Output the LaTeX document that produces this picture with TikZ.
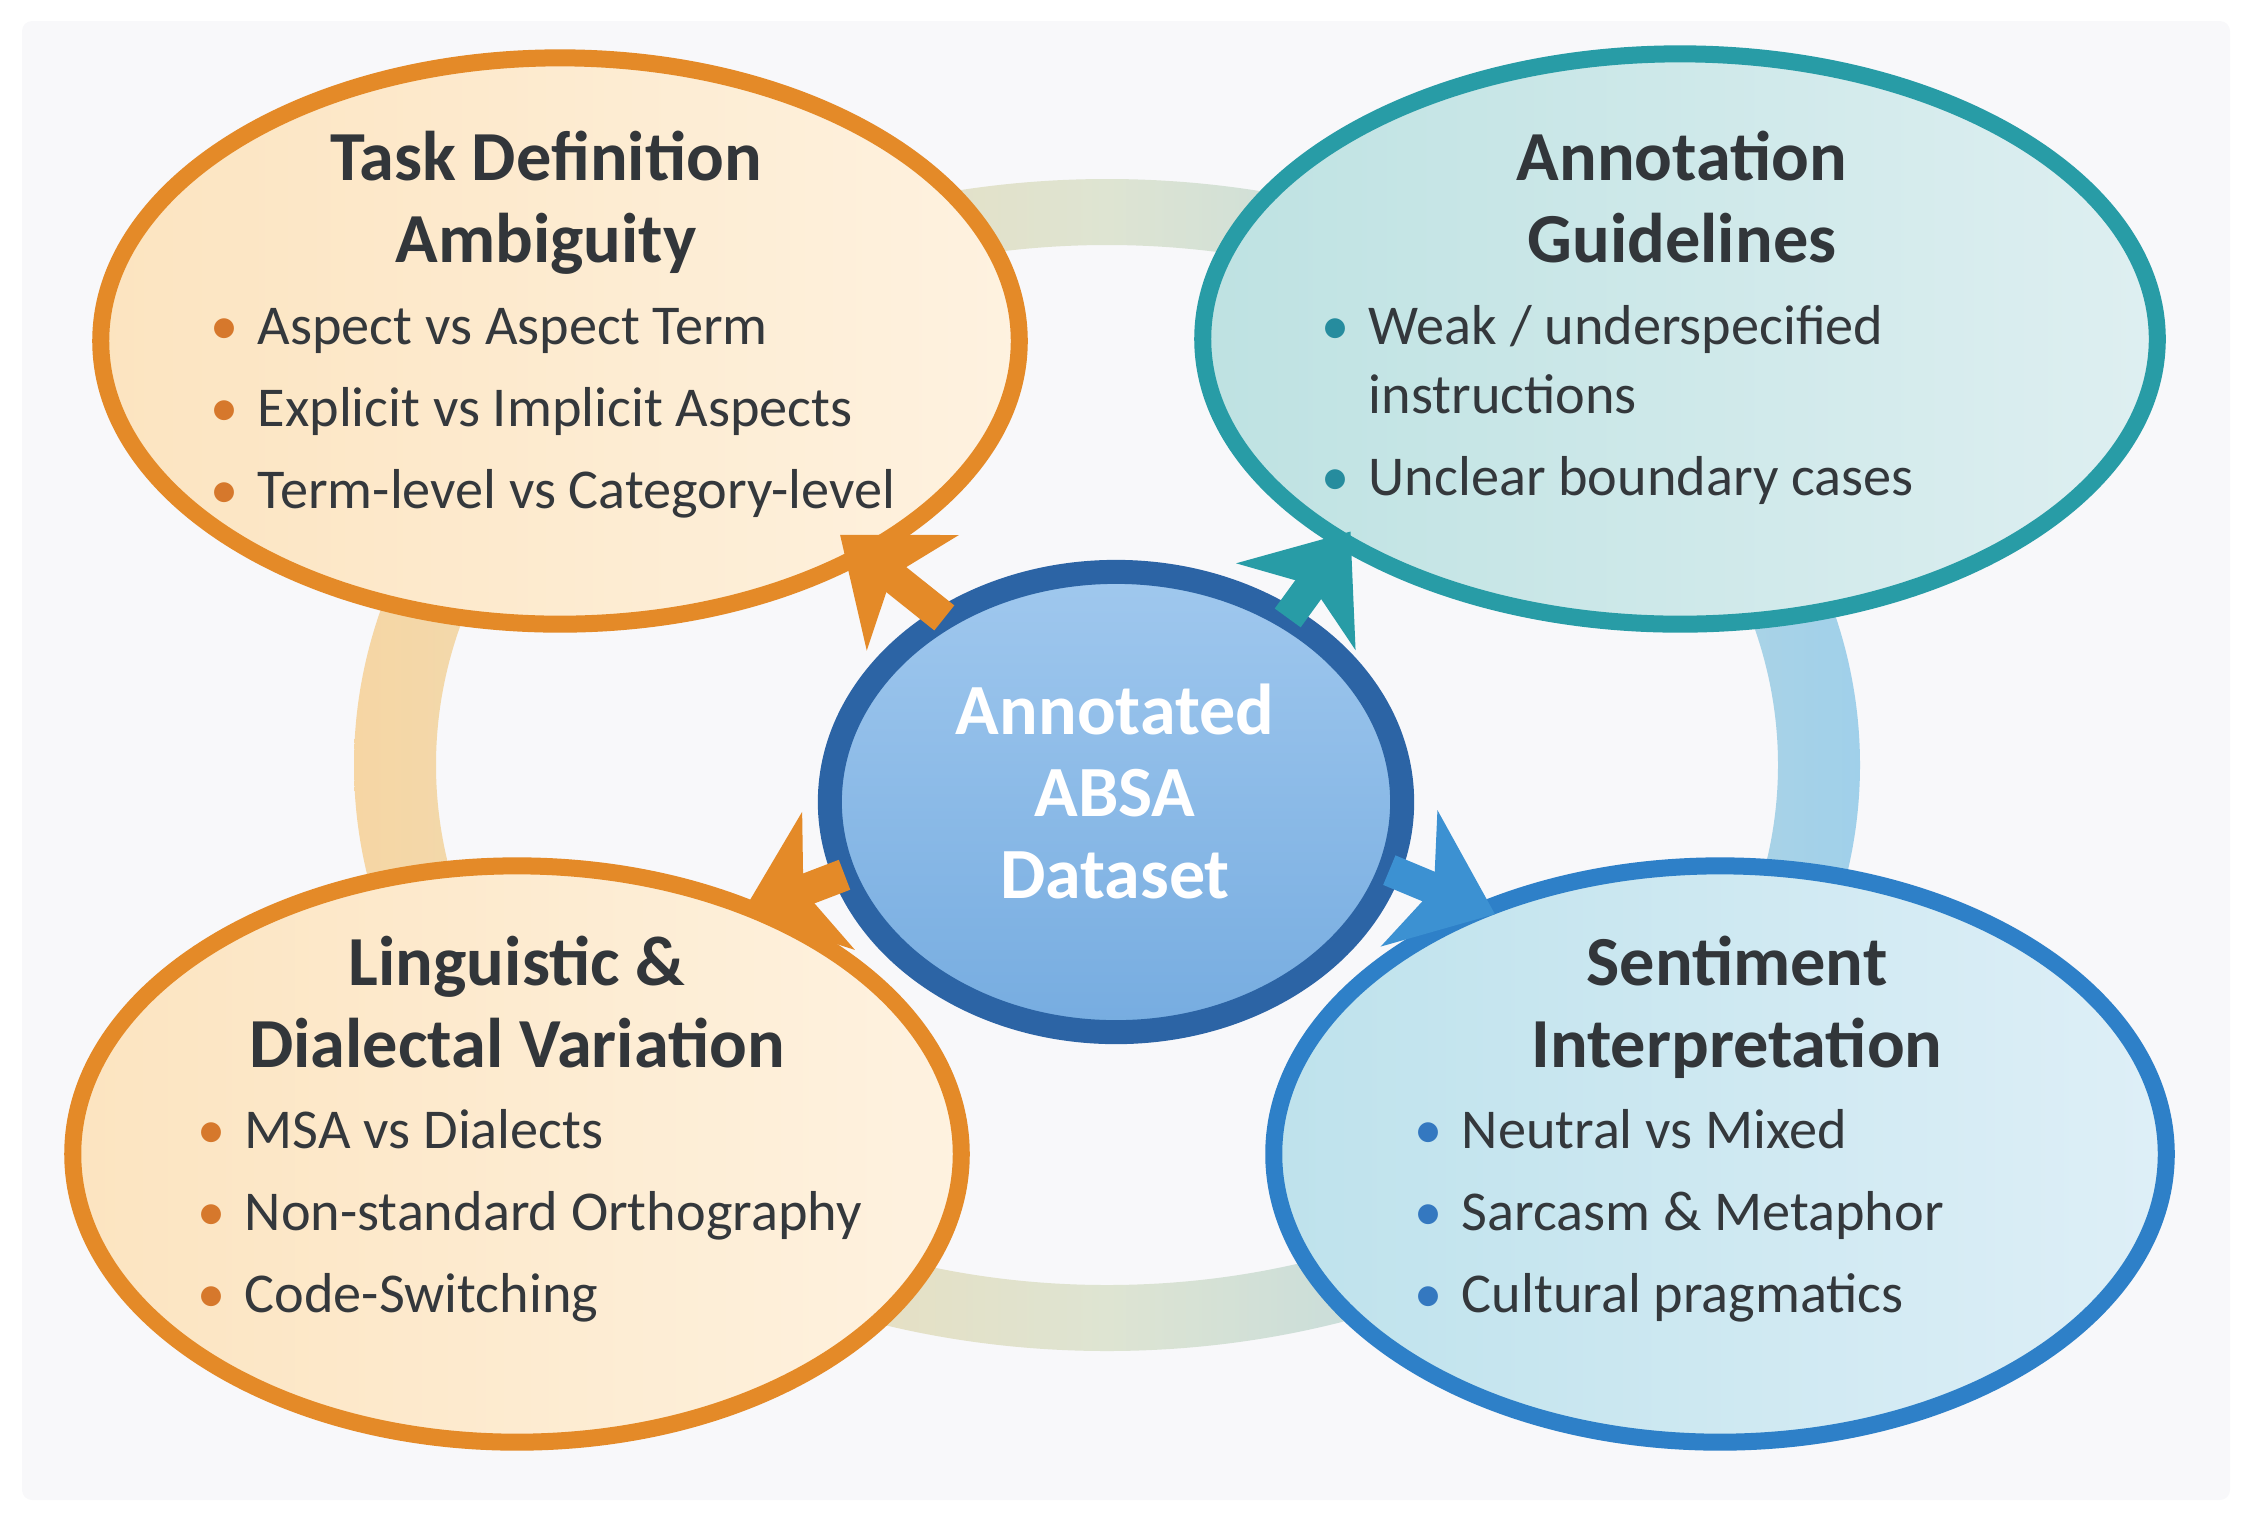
\documentclass[tikz,border=0pt]{standalone}
\usepackage{fontspec}
\setmainfont{Carlito}
\usepackage{xcolor}
\usetikzlibrary{shapes.geometric, arrows.meta, positioning}

\definecolor{panelgray}{RGB}{248, 248, 250}
\definecolor{titlegray}{RGB}{50, 54, 58}
\definecolor{textgray}{RGB}{52, 56, 60}
\definecolor{ringwarm}{RGB}{246, 214, 164}
\definecolor{ringmid}{RGB}{222, 228, 210}
\definecolor{ringcool}{RGB}{160, 208, 234}
\definecolor{warmline}{RGB}{228, 138, 40}
\definecolor{warmdot}{RGB}{214, 120, 44}
\definecolor{warmfillA}{RGB}{252, 228, 192}
\definecolor{warmfillB}{RGB}{254, 242, 224}
\definecolor{tealline}{RGB}{40, 156, 166}
\definecolor{tealdot}{RGB}{38, 140, 158}
\definecolor{tealfillA}{RGB}{190, 226, 226}
\definecolor{tealfillB}{RGB}{222, 239, 241}
\definecolor{blueline}{RGB}{46, 128, 200}
\definecolor{bluedot}{RGB}{52, 120, 192}
\definecolor{bluefillA}{RGB}{190, 226, 236}
\definecolor{bluefillB}{RGB}{222, 239, 247}
\definecolor{bluearrow}{RGB}{60, 145, 210}
\definecolor{hubline}{RGB}{44, 100, 165}
\definecolor{hubtop}{RGB}{160, 200, 238}
\definecolor{hubbottom}{RGB}{118, 172, 224}

\newcommand{\dotitem}[2]{\makebox[0.47cm][l]{\textcolor{#1}{\textbullet}}#2}

\begin{document}
\begin{tikzpicture}[x=0.01cm, y=-0.01cm,
    topic/.style={ellipse, line width=0.17cm, inner sep=0pt, outer sep=0pt},
    hubstyle/.style={ellipse, draw=hubline, line width=0.24cm, inner sep=0pt, outer sep=0pt,
        top color=hubtop, bottom color=hubbottom},
    topictitle/.style={anchor=north, align=center, inner sep=0pt, text=titlegray,
        font=\fontsize{20}{23.5}\selectfont\bfseries},
    topiclist/.style={anchor=north west, align=left, inner sep=0pt, text=textgray,
        font=\fontsize{16}{23.3}\selectfont},
    flow/.style={line width=0.32cm, shorten >=-0.12cm,
        -{Stealth[length=0.92cm, width=1.45cm, inset=0.26cm]}}]

    \useasboundingbox (0,0) rectangle (2251,1520);
    \fill[panelgray, rounded corners=0.1cm] (22,21) rectangle (2230,1500);

    % Cycle ring behind the topics
    \shade[left color=ringwarm, right color=ringcool, middle color=ringmid, even odd rule]
        (1107,765) ellipse (753 and 586) (1107,765) ellipse (671 and 520);

    % Topic ellipses
    \node[topic, draw=warmline, left color=warmfillA, right color=warmfillB,
        minimum width=9.18cm, minimum height=5.66cm] (taskdef) at (560,341) {};
    \node[topic, draw=tealline, left color=tealfillA, right color=tealfillB,
        minimum width=9.54cm, minimum height=5.70cm] (guide) at (1680,339) {};
    \node[topic, draw=warmline, left color=warmfillA, right color=warmfillB,
        minimum width=8.88cm, minimum height=5.76cm] (lingvar) at (517,1154) {};
    \node[topic, draw=blueline, left color=bluefillA, right color=bluefillB,
        minimum width=8.92cm, minimum height=5.76cm] (sentint) at (1720,1154) {};

    % Central dataset
    \node[hubstyle, minimum width=5.72cm, minimum height=4.60cm] (hub) at (1116,802) {};
    \node[align=center, inner sep=0pt, anchor=north, text=white,
        font=\fontsize{20.5}{23.4}\selectfont\bfseries] (hub-text) at (1115,683)
        {Annotated\\ABSA\\Dataset};

    % Texts
    \node[topictitle] (taskdef-title) at (546,130) {Task Definition\\Ambiguity};
    \node[topiclist] (taskdef-list) at (210,308)
        {\dotitem{warmdot}{Aspect vs Aspect Term}\\
         \dotitem{warmdot}{Explicit vs Implicit Aspects}\\
         \dotitem{warmdot}{Term-level vs Category-level}};

    \node[topictitle] (guide-title) at (1682,130) {Annotation\\Guidelines};
    \node[topiclist, font=\fontsize{16}{19.6}\selectfont] (guide-list) at (1321,305)
        {\dotitem{tealdot}{Weak / underspecified}\\
         \hspace*{0.47cm}instructions\\[3.7pt]
         \dotitem{tealdot}{Unclear boundary cases}};

    \node[topictitle] (lingvar-title) at (517,935) {Linguistic \&\\Dialectal Variation};
    \node[topiclist] (lingvar-list) at (197,1109)
        {\dotitem{warmdot}{MSA vs Dialects}\\
         \dotitem{warmdot}{Non-standard Orthography}\\
         \dotitem{warmdot}{Code-Switching}};

    \node[topictitle] (sentint-title) at (1737,935) {Sentiment\\Interpretation};
    \node[topiclist] (sentint-list) at (1414,1109)
        {\dotitem{bluedot}{Neutral vs Mixed}\\
         \dotitem{bluedot}{Sarcasm \& Metaphor}\\
         \dotitem{bluedot}{Cultural pragmatics}};

    % Arrows out of the hub
    \draw[flow, draw=warmline, shorten >=-0.3cm] (hub.133) -- (taskdef.-35);
    \draw[flow, draw=tealline] (hub.47) -- (guide.-149);
    \draw[flow, draw=warmline] (hub.195) -- (lingvar.46);
    \draw[flow, draw=bluearrow] (hub.-14) -- (sentint.134);
\end{tikzpicture}
\end{document}
